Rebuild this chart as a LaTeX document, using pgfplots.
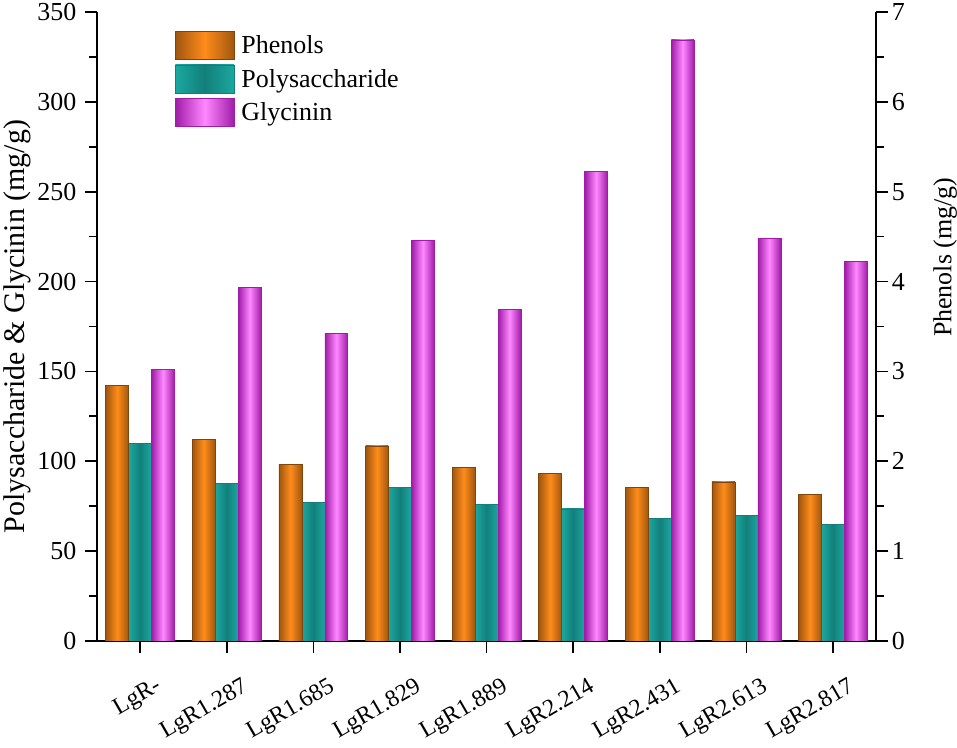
\documentclass[border=0pt]{standalone}
\usepackage{pgfplots}
\pgfplotsset{compat=1.18}
\usepackage{fontspec}
\setmainfont{Liberation Serif}
\definecolor{phenD}{HTML}{A0560F}
\definecolor{phenL}{HTML}{FF8C1A}
\definecolor{polyL}{HTML}{1BA8A0}
\definecolor{polyD}{HTML}{137F7B}
\definecolor{glyD}{HTML}{A01CA8}
\definecolor{glyL}{HTML}{FF88FF}
\tikzset{
  phenstyle/.style={left color=phenD, right color=phenD, middle color=phenL, draw=phenD!80!black, line width=0.6pt},
  polystyle/.style={left color=polyL, right color=polyL, middle color=polyD, draw=polyD, line width=0.6pt},
  glystyle/.style={left color=glyD, right color=glyD, middle color=glyL, draw=glyD, line width=0.6pt},
}
\newcommand{\onebar}[4]{\addplot[#1, bar shift=#2, forget plot] coordinates {(#3,#4)};}
\pgfplotsset{
  common/.style={
    width=781pt, height=630pt, scale only axis,
    xmin=-0.5, xmax=8.5,
    ybar, bar width=0.265,
    tick align=outside,
    major tick length=12pt, minor tick length=8pt,
    every tick/.style={black, line width=1.6pt},
    axis line style={line width=1.8pt},
    tick label style={font=\fontsize{26}{30}\selectfont},
    /pgf/number format/assume math mode=true,
    minor y tick num=1,
  },
}
\begin{document}
\begin{tikzpicture}
\begin{axis}[common,
  ymin=0, ymax=350,
  axis y line*=left, axis x line*=bottom,
  xtick={0,1,2,3,4,5,6,7,8},
  xticklabels={LgR-,LgR1.287,LgR1.685,LgR1.829,LgR1.889,LgR2.214,LgR2.431,LgR2.613,LgR2.817},
  x tick label style={rotate=30, anchor=north east, font=\fontsize{24}{28}\selectfont, yshift=-24pt, xshift=4pt},
  y tick label style={xshift=-5pt},
  ytick={0,50,100,150,200,250,300,350},
  ylabel={Polysaccharide \& Glycinin (mg/g)},
  ylabel style={font=\fontsize{30}{36}\selectfont},
]
% Polysaccharide
\onebar{polystyle}{0}{0}{110}
\onebar{polystyle}{0}{1}{87.8}
\onebar{polystyle}{0}{2}{77.2}
\onebar{polystyle}{0}{3}{85.6}
\onebar{polystyle}{0}{4}{76.1}
\onebar{polystyle}{0}{5}{73.5}
\onebar{polystyle}{0}{6}{68}
\onebar{polystyle}{0}{7}{70}
\onebar{polystyle}{0}{8}{64.8}
% Glycinin
\onebar{glystyle}{0.265}{0}{151}
\onebar{glystyle}{0.265}{1}{196.7}
\onebar{glystyle}{0.265}{2}{171.3}
\onebar{glystyle}{0.265}{3}{223}
\onebar{glystyle}{0.265}{4}{184.6}
\onebar{glystyle}{0.265}{5}{261.5}
\onebar{glystyle}{0.265}{6}{334.5}
\onebar{glystyle}{0.265}{7}{224}
\onebar{glystyle}{0.265}{8}{211.3}
\end{axis}
\begin{axis}[common,
  ymin=0, ymax=7,
  axis y line*=right, axis x line=none,
  ytick={0,1,2,3,4,5,6,7},
  ylabel={Phenols (mg/g)},
  ylabel style={font=\fontsize{26}{30}\selectfont, at={(rel axis cs:1.073,0.61)}, anchor=north, inner sep=0pt},
  legend image code/.code={\draw[#1,/tikz/.cd] (0pt,-14pt) rectangle (59pt,14pt);},
  legend style={at={(rel axis cs:0.1,0.97)}, anchor=north west, draw=none, fill=none, inner sep=0pt, row sep=5pt, font=\fontsize{26}{30}\selectfont,
    /tikz/every odd column/.append style={column sep=5pt}},
  legend cell align=left,
]
% Phenols
\onebar{phenstyle}{-0.265}{0}{2.84}
\onebar{phenstyle}{-0.265}{1}{2.24}
\onebar{phenstyle}{-0.265}{2}{1.96}
\onebar{phenstyle}{-0.265}{3}{2.17}
\onebar{phenstyle}{-0.265}{4}{1.93}
\onebar{phenstyle}{-0.265}{5}{1.86}
\onebar{phenstyle}{-0.265}{6}{1.71}
\onebar{phenstyle}{-0.265}{7}{1.77}
\onebar{phenstyle}{-0.265}{8}{1.63}
\addlegendimage{phenstyle}
\addlegendentry{Phenols}
\addlegendimage{polystyle}
\addlegendentry{Polysaccharide}
\addlegendimage{glystyle}
\addlegendentry{Glycinin}
\end{axis}
\end{tikzpicture}
\end{document}
